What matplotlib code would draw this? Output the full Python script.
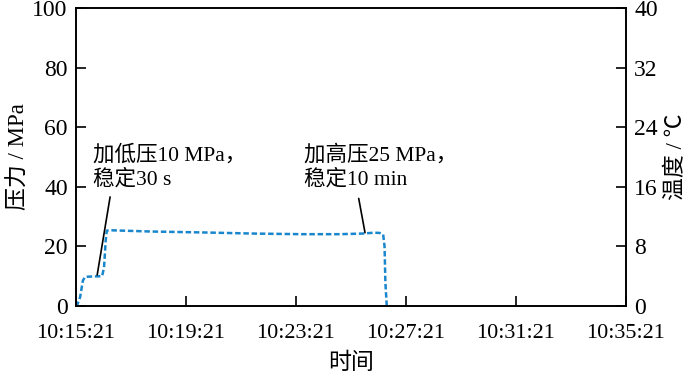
import matplotlib
matplotlib.use("Agg")
import matplotlib.pyplot as plt

plt.rcParams["font.family"] = ["Liberation Serif", "Noto Sans CJK SC"]
plt.rcParams["font.size"] = 16
plt.rcParams["axes.linewidth"] = 1.2

# minutes after 10:15:21 and pressure in MPa
t_min = [0.0, 0.03, 0.15, 0.25, 0.33, 0.6, 0.95, 1.02, 1.08, 1.12, 1.3,
         2.7, 4.5, 6.5, 8.2, 9.6, 10.4, 10.85, 11.05, 11.17, 11.22, 11.25, 11.3]
pressure = [0.0, 0.0, 3.0, 8.5, 9.8, 9.9, 10.0, 13.0, 22.0, 25.3, 25.4,
            25.0, 24.7, 24.3, 24.1, 24.1, 24.3, 24.6, 24.5, 24.0, 20.0, 8.0, 0.0]

xticks = [0, 4, 8, 12, 16, 20]
xlabels = ["10:15:21", "10:19:21", "10:23:21",
           "10:27:21", "10:31:21", "10:35:21"]
p_ticks = [0, 20, 40, 60, 80, 100]
temp_ticks = [0, 8, 16, 24, 32, 40]

fig = plt.figure(figsize=(7.0, 3.78), dpi=100)
ax = fig.add_axes([76 / 700, 72 / 378, 550 / 700, 298 / 378])

ax.plot(t_min, pressure, color="#1a86cc", lw=1.8, ls=(0, (2.2, 1.1)))

ax.set_xlim(0, 20)
ax.set_ylim(0, 100)
ax.set_xticks(xticks)
ax.set_xticklabels(xlabels)
ax.set_yticks(p_ticks)
ax.tick_params(direction="in", length=7, width=1.2, pad=6, labelsize=17)
ax.tick_params(axis="x", pad=13, labelsize=16)
ax.set_xlabel("时间", labelpad=7, fontsize=16.5)
ax.set_ylabel("压力 / MPa", labelpad=2, fontsize=16.5)

ax2 = ax.twinx()
ax2.set_ylim(0, 40)
ax2.set_yticks(temp_ticks)
ax2.tick_params(direction="in", length=7, width=1.2, pad=6, labelsize=17)
ax2.set_ylabel("温度 / ℃", labelpad=6, fontsize=16.5)

# annotations: text blocks and leader lines
ax.text(0.62, 46.6, "加低压10 MPa，\n稳定30 s", fontsize=15.5,
        ha="left", va="center", linespacing=1.25)
ax.annotate("", xy=(0.77, 10.4), xytext=(1.24, 36.6),
            arrowprops=dict(arrowstyle="-", color="black", lw=1.2,
                            shrinkA=0, shrinkB=0))
ax.text(8.28, 46.6, "加高压25 MPa，\n稳定10 min", fontsize=15.5,
        ha="left", va="center", linespacing=1.25)
ax.annotate("", xy=(10.51, 24.6), xytext=(10.28, 36.1),
            arrowprops=dict(arrowstyle="-", color="black", lw=1.2,
                            shrinkA=0, shrinkB=0))

fig.savefig("out.png", dpi=100)
